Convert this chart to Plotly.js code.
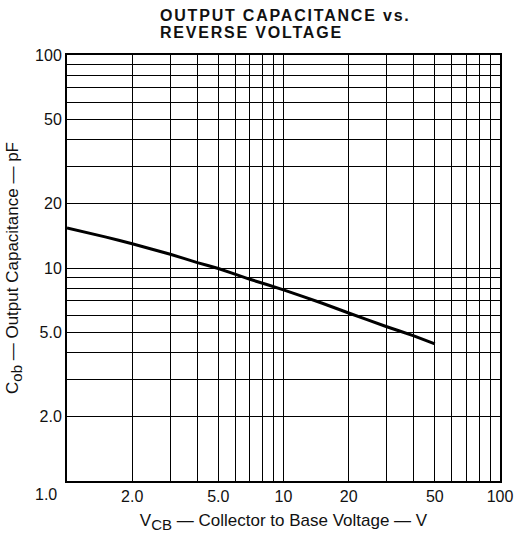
<!DOCTYPE html>
<html>
<head>
<meta charset="utf-8">
<script src="https://cdn.plot.ly/plotly-3.0.1.min.js"></script>
<style>
html,body{margin:0;padding:0;background:#fff;}
#chart{width:516px;height:538px;}
</style>
</head>
<body>
<div id="chart"></div>
<script>
// Data
const voltageV = [1, 1.5, 2, 3, 4, 5, 7, 10, 15, 20, 30, 40, 50];
const capacitancePF = [15.4, 14.0, 13.0, 11.6, 10.6, 9.95, 8.85, 7.9, 6.85, 6.15, 5.3, 4.8, 4.4];

const xTickVals = [1,2,3,4,5,6,7,8,9,10,20,30,40,50,60,70,80,90,100];
const xTickText = ["","2.0","","","5.0","","","","","10","20","","","50","","","","","100"];
const yTickVals = [2,3,4,5,6,7,8,9,10,20,30,40,50,60,70,80,90,100];
const yTickText = ["2.0","","","5.0","","","","","10","20","","","50","","","","","100"];
const cornerLabel = "1.0";
const titleLines = ["OUTPUT CAPACITANCE vs.", "REVERSE VOLTAGE"];

const fam = "Liberation Sans, Arial, sans-serif";
const tickFont = {family: fam, color: "#111", size: 16};
const titleFont = {family: fam, color: "#111", size: 17};

const trace = {
  x: voltageV, y: capacitancePF, type: "scatter", mode: "lines",
  line: {color: "#000", width: 3, shape: "spline", smoothing: 0.3},
  hoverinfo: "skip"
};

const axisCommon = {
  type: "log", showgrid: true, gridcolor: "#000", gridwidth: 1,
  showline: true, linecolor: "#000", linewidth: 2, mirror: true,
  ticks: "", tickmode: "array", zeroline: false, tickfont: tickFont, fixedrange: true
};

const sub = s => "<sub><span style='font-size:15px'>" + s + "</span></sub>";

const layout = {
  width: 516, height: 538,
  margin: {l: 67, r: 16, t: 55, b: 57},
  paper_bgcolor: "#fff", plot_bgcolor: "#fff",
  showlegend: false, font: tickFont,
  xaxis: Object.assign({}, axisCommon, {
    range: [0, 2], tickvals: xTickVals, ticktext: xTickText,
    title: {text: "V" + sub("CB") + " \u2014 Collector to Base Voltage \u2014 V", font: titleFont, standoff: 10}
  }),
  yaxis: Object.assign({}, axisCommon, {
    range: [0, 2], tickvals: yTickVals, ticktext: yTickText,
    title: {text: "C" + sub("ob") + " \u2014 Output Capacitance \u2014 pF", font: titleFont, standoff: 12}
  }),
  annotations: [
    {x: 0, y: 0, xref: "x", yref: "y", text: cornerLabel, showarrow: false,
     xanchor: "right", yanchor: "top", xshift: -8, yshift: -3, font: tickFont},
    {x: 158, y: 538 - 24, xref: "paper", yref: "paper", showarrow: false,
     text: "<b><span style='letter-spacing:1.8px'>" + titleLines[0] + "</span></b>",
     xanchor: "left", yanchor: "bottom", font: {family: fam, size: 16, color: "#111"}},
    {x: 158, y: 538 - 41, xref: "paper", yref: "paper", showarrow: false,
     text: "<b><span style='letter-spacing:1.8px'>" + titleLines[1] + "</span></b>",
     xanchor: "left", yanchor: "bottom", font: {family: fam, size: 16, color: "#111"}}
  ]
};
// convert pixel positions for title annotations into paper fractions
const plotW = 516 - 67 - 16, plotH = 538 - 55 - 57;
layout.annotations[1].x = (158 - 67) / plotW; layout.annotations[1].y = (481 - 26) / plotH;
layout.annotations[2].x = (158 - 67) / plotW; layout.annotations[2].y = (481 - 43) / plotH;
layout.annotations[1].yanchor = "middle"; layout.annotations[2].yanchor = "middle";
layout.annotations[1].y = (481 - 16) / plotH; layout.annotations[2].y = (481 - 33) / plotH;

Plotly.newPlot("chart", [trace], layout, {staticPlot: true, displayModeBar: false});
</script>
</body>
</html>
